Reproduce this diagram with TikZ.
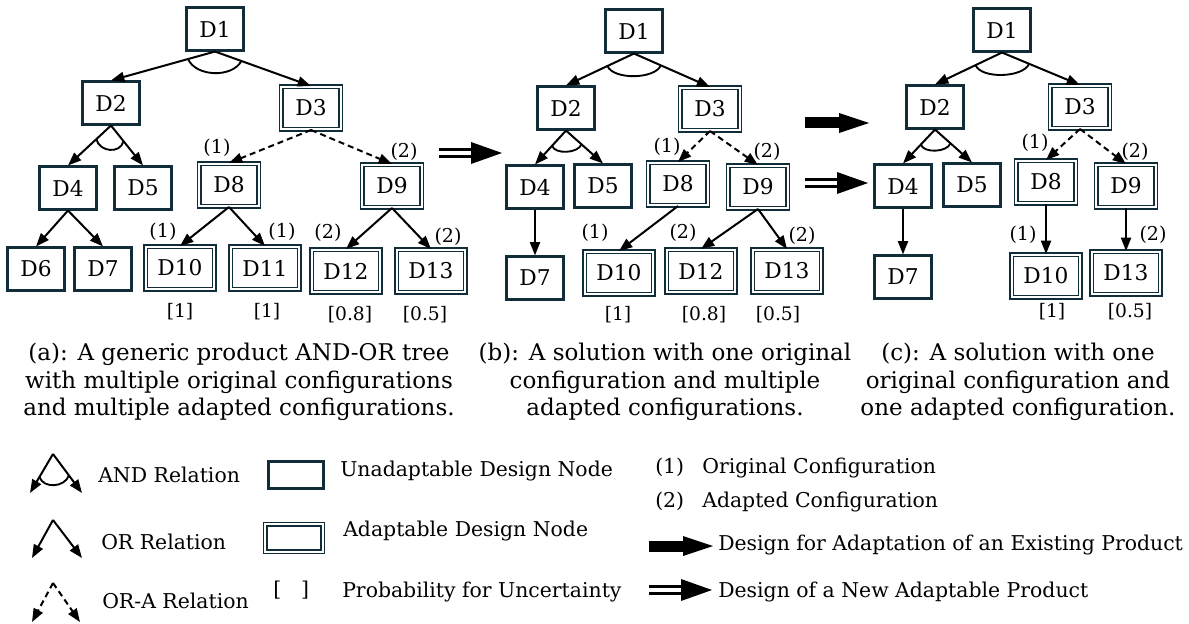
\documentclass[tikz,border=0pt]{standalone}
\usepackage{fontspec}
\setmainfont{DejaVu Serif}
\usetikzlibrary{arrows.meta,calc}
\definecolor{boxc}{RGB}{18,45,58}
\tikzset{
  fatarrow/.pic={\fill[black] (-64,-5.5) rectangle (-29,5.5); \fill[black] (-30,-10) -- (0,0) -- (-30,10) -- cycle;},
  dblarrow/.pic={\fill[black] (-63,-5.2) rectangle (-29,-1.6); \fill[black] (-63,1.6) rectangle (-29,5.2); \fill[black] (-31,-11) -- (0,0) -- (-31,11) -- cycle;}
}
\begin{document}
\begin{tikzpicture}[x=0.75pt,y=-0.75pt,
  nfont/.style={font=\fontsize{16.3pt}{19pt}\selectfont},
  sbox/.style={draw=boxc,line width=1.6pt,fill=white,minimum width=42.7pt,minimum height=32.2pt,inner sep=0pt,nfont},
  dbox/.style={draw=boxc,double=white,double distance=1.5pt,line width=1.2pt,minimum width=44.6pt,minimum height=31.8pt,inner sep=0pt,nfont},
  wbox/.style={dbox,minimum width=51.6pt},
  arr/.style={line width=1.5pt,-{Triangle[length=10pt,width=7.5pt]}},
  darr/.style={arr,dash pattern=on 4.5pt off 3pt},
  cfg/.style={font=\fontsize{14.3pt}{17pt}\selectfont,inner sep=0pt},
  prob/.style={font=\fontsize{14pt}{17pt}\selectfont,inner sep=0pt},
  captxt/.style={font=\fontsize{17.25pt}{20.6pt}\selectfont,align=center,inner sep=0pt,anchor=north},
  leg/.style={font=\fontsize{15.3pt}{18pt}\selectfont,inner sep=0pt,anchor=base west},
  andarc/.style={line width=1.4pt}]
\fill[white] (0,0) rectangle (1189,624);
\useasboundingbox (0,0) rectangle (1189,624);

% ---------------- panel (a)
\node[sbox] (a1) at (215,29) {D1};
\node[sbox] (a2) at (111,103) {D2};
\node[dbox] (a3) at (311,108) {D3};
\node[sbox] (a4) at (68,188) {D4};
\node[sbox] (a5) at (143,188) {D5};
\node[dbox] (a8) at (229,185) {D8};
\node[dbox] (a9) at (392,186) {D9};
\node[sbox] (a6) at (36,269) {D6};
\node[sbox] (a7) at (103,269) {D7};
\node[wbox] (a10) at (180,268) {D10};
\node[wbox] (a11) at (265,268) {D11};
\node[wbox] (a12) at (346,271) {D12};
\node[wbox] (a13) at (431,271) {D13};
\draw[arr] (a1.south) -- (a2.north);
\draw[arr] (a1.south) -- (a3.north);
\draw[arr] (a2.south) -- (a4.north);
\draw[arr] (a2.south) -- (a5.north);
\draw[darr] (a3.south) -- (a8.north);
\draw[darr] (a3.south) -- (a9.north);
\draw[arr] (a4.south) -- (a6.north);
\draw[arr] (a4.south) -- (a7.north);
\draw[arr] (a8.south) -- (a10.north);
\draw[arr] (a8.south) -- (a11.north);
\draw[arr] (a9.south) -- (a12.north);
\draw[arr] (a9.south) -- (a13.north);
\draw[andarc] ($(a1.south)!21pt!(a2.north)$) .. controls +(8,18) and +(-9,17) .. ($(a1.south)!21pt!(a3.north)$);
\draw[andarc] ($(a2.south)!15pt!(a4.north)$) .. controls +(3,13) and +(-3,13) .. ($(a2.south)!15pt!(a5.north)$);
\node[cfg] (a8l) at (217,148) {(1)};
\node[cfg] (a9l) at (404,152) {(2)};
\node[cfg] (a10l) at (163,232) {(1)};
\node[cfg] (a11l) at (282,232) {(1)};
\node[cfg] (a12l) at (328,233) {(2)};
\node[cfg] (a13l) at (448,237) {(2)};
\node[prob] (a10p) at (180,312) {[1]};
\node[prob] (a11p) at (267,312) {[1]};
\node[prob] (a12p) at (350,315) {[0.8]};
\node[prob] (a13p) at (425,315) {[0.5]};
\node[captxt] (capa) at (239,343) {(a): A generic product AND-OR tree\\with multiple original configurations\\and multiple adapted configurations.};

\pic at (502,153) {dblarrow};

% ---------------- panel (b)
\node[sbox] (b1) at (634,31) {D1};
\node[sbox] (b2) at (566,108) {D2};
\node[dbox] (b3) at (710,109) {D3};
\node[sbox] (b4) at (535,187) {D4};
\node[sbox] (b5) at (603,186) {D5};
\node[dbox] (b8) at (678,184) {D8};
\node[dbox] (b9) at (758,187) {D9};
\node[sbox] (b7) at (535,278) {D7};
\node[wbox] (b10) at (619,273) {D10};
\node[wbox] (b12) at (701,271) {D12};
\node[wbox] (b13) at (787,271) {D13};
\draw[arr] (b1.south) -- (b2.north);
\draw[arr] (b1.south) -- (b3.north);
\draw[arr] (b2.south) -- (b4.north);
\draw[arr] (b2.south) -- (b5.north);
\draw[darr] (b3.south) -- (b8.north);
\draw[darr] (b3.south) -- (b9.north);
\draw[arr] (b4.south) -- (b7.north);
\draw[arr] (b8.south) -- (b10.north);
\draw[arr] (b9.south) -- (b12.north);
\draw[arr] (b9.south) -- (b13.north);
\draw[andarc] ($(b1.south)!22pt!(b2.north)$) .. controls +(6,14) and +(-6,14) .. ($(b1.south)!22pt!(b3.north)$);
\draw[andarc] ($(b2.south)!15.5pt!(b4.north)$) .. controls +(3,9) and +(-3,9) .. ($(b2.south)!15.5pt!(b5.north)$);
\node[cfg] (b8l) at (667,147) {(1)};
\node[cfg] (b9l) at (767,152) {(2)};
\node[cfg] (b10l) at (595,233) {(1)};
\node[cfg] (b12l) at (683,233) {(2)};
\node[cfg] (b13l) at (802,236) {(2)};
\node[prob] (b10p) at (618,315) {[1]};
\node[prob] (b12p) at (704,315) {[0.8]};
\node[prob] (b13p) at (778,315) {[0.5]};
\node[captxt] (capb) at (665,343) {(b): A solution with one original\\configuration and multiple\\adapted configurations.};

\pic at (869,123) {fatarrow};
\pic at (868,183) {dblarrow};

% ---------------- panel (c)
\node[sbox] (c1) at (1002,30) {D1};
\node[sbox] (c2) at (935,107) {D2};
\node[dbox] (c3) at (1080,107) {D3};
\node[sbox] (c4) at (903,186) {D4};
\node[sbox] (c5) at (972,185) {D5};
\node[dbox] (c8) at (1046,182) {D8};
\node[dbox] (c9) at (1126,186) {D9};
\node[sbox] (c7) at (903,277) {D7};
\node[wbox] (c10) at (1046,276) {D10};
\node[wbox] (c13) at (1126,273) {D13};
\draw[arr] (c1.south) -- (c2.north);
\draw[arr] (c1.south) -- (c3.north);
\draw[arr] (c2.south) -- (c4.north);
\draw[arr] (c2.south) -- (c5.north);
\draw[darr] (c3.south) -- (c8.north);
\draw[darr] (c3.south) -- (c9.north);
\draw[arr] (c4.south) -- (c7.north);
\draw[arr] (c8.south) -- (c10.north);
\draw[arr] (c9.south) -- (c13.north);
\draw[andarc] ($(c1.south)!22pt!(c2.north)$) .. controls +(6,14) and +(-6,14) .. ($(c1.south)!22pt!(c3.north)$);
\draw[andarc] ($(c2.south)!15.5pt!(c4.north)$) .. controls +(3,9) and +(-3,9) .. ($(c2.south)!15.5pt!(c5.north)$);
\node[cfg] (c8l) at (1035,143) {(1)};
\node[cfg] (c9l) at (1135,152) {(2)};
\node[cfg] (c10l) at (1023,235) {(1)};
\node[cfg] (c13l) at (1153,235) {(2)};
\node[prob] (c10p) at (1052,312) {[1]};
\node[prob] (c13p) at (1130,312) {[0.5]};
\node[captxt] (capc) at (1018,343) {(c): A solution with one\\original configuration and\\one adapted configuration.};

% ---------------- legend
\coordinate (andt) at (53,454); \coordinate (andl) at (30,493); \coordinate (andr) at (82,493);
\draw[arr] (andt) -- (andl);
\draw[arr] (andt) -- (andr);
\draw[andarc] ($(andt)!20pt!(andl)$) .. controls +(4,12) and +(-4,12) .. ($(andt)!20pt!(andr)$);
\coordinate (ort) at (53,520); \coordinate (orl) at (32,558); \coordinate (orr) at (82,558);
\draw[arr] (ort) -- (orl);
\draw[arr] (ort) -- (orr);
\coordinate (orat) at (53,583); \coordinate (oral) at (32,622); \coordinate (orar) at (80,622);
\draw[darr] (orat) -- (oral);
\draw[darr] (orat) -- (orar);
\node[leg] (tand) at (98,482) {AND Relation};
\node[leg] (tor) at (101,549) {OR Relation};
\node[leg] (tora) at (102,608) {OR-A Relation};
\node[sbox,minimum width=41.2pt,minimum height=20.2pt] (lun) at (296,475) {};
\node[dbox,minimum width=43pt,minimum height=20.4pt] (lad) at (294,538) {};
\node[leg] (tun) at (340,476) {Unadaptable Design Node};
\node[leg] (tad) at (343,536) {Adaptable Design Node};
\node[leg] (tbr) at (273,596) {[\hspace{15pt}]};
\node[leg] (tpr) at (342,597) {Probability for Uncertainty};
\node[leg] (t1) at (655,473) {(1)};
\node[leg] (tog) at (702,473) {Original Configuration};
\node[leg] (t2) at (655,507) {(2)};
\node[leg] (tac) at (702,507) {Adapted Configuration};
\pic at (713,546) {fatarrow};
\node[leg] (tdfa) at (718,550) {Design for Adaptation of an Existing Product};
\pic at (712,590) {dblarrow};
\node[leg] (tdna) at (718,597) {Design of a New Adaptable Product};
\end{tikzpicture}
\end{document}
